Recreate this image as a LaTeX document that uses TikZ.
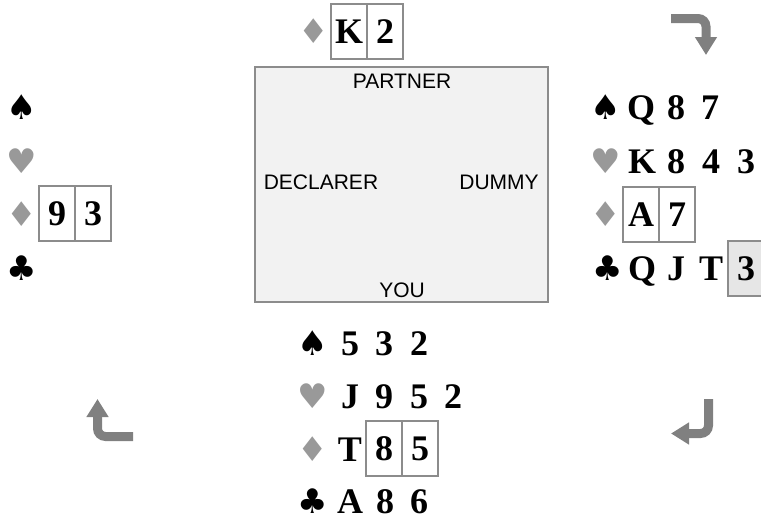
\documentclass[tikz,border=0pt]{standalone}
\usepackage{fontspec}
\setmainfont{Liberation Serif}
\newfontfamily\symfont{DejaVu Sans}
\newfontfamily\labfont{Liberation Sans}
\usetikzlibrary{arrows.meta}
\definecolor{boxgray}{HTML}{8C8C8C}
\definecolor{suitgray}{HTML}{999999}
\definecolor{tablefill}{HTML}{F2F2F2}
\definecolor{arrowgray}{HTML}{808080}
\definecolor{playfill}{HTML}{E6E6E6}
\tikzset{
  rank/.style={font=\fontsize{36}{36}\selectfont\bfseries, inner sep=0pt, text height=24pt, text depth=0pt, minimum width=35pt},
  cell/.style={rank, draw=boxgray, line width=2pt, minimum width=36pt, minimum height=55pt},
  suitb/.style={font=\symfont\fontsize{34}{34}\selectfont, text=black, inner sep=0pt},
  suitr/.style={suitb, text=suitgray},
  lab/.style={font=\labfont\fontsize{21}{21}\selectfont, inner sep=0pt},
  turn/.style={draw=arrowgray, line width=9pt, rounded corners=8pt, -{Triangle[width=21pt,length=18pt]}},
}
\begin{document}
\begin{tikzpicture}[x=1pt,y=-1pt]
\useasboundingbox (0,0) rectangle (761,517);
% table
\node[draw=boxgray, fill=tablefill, line width=2.5pt, minimum width=293pt, minimum height=235pt, inner sep=0pt] (table) at (401.5,184.5) {};
\node[lab] (partner) at (402,81) {PARTNER};
\node[lab] (declarer) at (321,182) {DECLARER};
\node[lab] (dummy) at (499,182) {DUMMY};
\node[lab] (you) at (402,290) {YOU};
% north
\node[suitr] (nd) at (314,31) {♦};
\node[cell] (nK) at (349,31.5) {K};
\node[cell] (n2) at (385,31.5) {2};
% west
\node[suitb] (ws) at (22,107) {♠};
\node[suitr] (wh) at (22,161) {♥};
\node[suitr] (wd) at (22,214) {♦};
\node[cell] (w9) at (57,213.5) {9};
\node[cell] (w3) at (93,213.5) {3};
\node[suitb] (wc) at (22,268) {♣};
% east
\node[suitb] (es) at (606,107) {♠};
\node[rank] (eQ) at (641,107) {Q};
\node[rank] (e8) at (676,107) {8};
\node[rank] (e7) at (710,107) {7};
\node[suitr] (eh) at (606,161) {♥};
\node[rank] (eK) at (642,161) {K};
\node[rank] (eh8) at (676,161) {8};
\node[rank] (e4) at (711,161) {4};
\node[rank] (e3) at (746,161) {3};
\node[suitr] (ed) at (606,214) {♦};
\node[cell] (eA) at (641,214) {A};
\node[cell] (ed7) at (677,214) {7};
\node[suitb] (ec) at (608,268) {♣};
\node[rank] (ecQ) at (642,268) {Q};
\node[rank] (ecJ) at (676,268) {J};
\node[rank] (ecT) at (711,268) {T};
\node[cell, fill=playfill] (ec3) at (746,268) {3};
% south
\node[suitb] (ss) at (313,343) {♠};
\node[rank] (s5) at (350,343) {5};
\node[rank] (s3) at (384,343) {3};
\node[rank] (s2) at (419,343) {2};
\node[suitr] (sh) at (313,396) {♥};
\node[rank] (sJ) at (350,396) {J};
\node[rank] (s9) at (384,396) {9};
\node[rank] (sh5) at (419,396) {5};
\node[rank] (sh2) at (453,396) {2};
\node[suitr] (sd) at (313,449) {♦};
\node[rank] (sT) at (350,449) {T};
\node[cell] (s8) at (384,448.5) {8};
\node[cell] (sd5) at (420,448.5) {5};
\node[suitb] (sc) at (313,501) {♣};
\node[rank] (sA) at (350,501) {A};
\node[rank] (sc8) at (385,501) {8};
\node[rank] (s6) at (419,501) {6};
% turn arrows
\coordinate (a1s) at (671,18.5);
\coordinate (a1c) at (706,18.5);
\coordinate (a1e) at (706,55);
\draw[turn] (a1s) -- (a1c) -- (a1e);
\coordinate (a2s) at (708.5,399);
\coordinate (a2c) at (708.5,433.5);
\coordinate (a2e) at (671,433.5);
\draw[turn] (a2s) -- (a2c) -- (a2e);
\coordinate (a3s) at (133,436.5);
\coordinate (a3c) at (97.5,436.5);
\coordinate (a3e) at (97.5,399);
\draw[turn] (a3s) -- (a3c) -- (a3e);
\end{tikzpicture}
\end{document}
